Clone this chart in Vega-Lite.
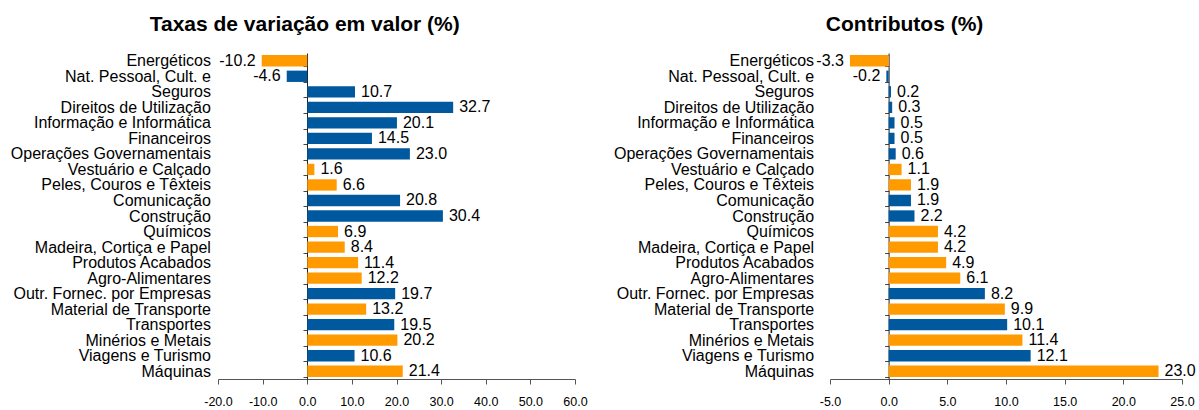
{
  "$schema": "https://vega.github.io/schema/vega-lite/v6.json",
  "padding": {"left": 10, "top": 14, "right": 5, "bottom": 2},
  "background": "#ffffff",
  "data": {"values": [
    {"cat": "Energéticos", "tipo": "bens", "taxa": -10.2, "contrib": -3.3},
    {"cat": "Nat. Pessoal, Cult. e", "tipo": "servicos", "taxa": -4.6, "contrib": -0.2},
    {"cat": "Seguros", "tipo": "servicos", "taxa": 10.7, "contrib": 0.2},
    {"cat": "Direitos de Utilização", "tipo": "servicos", "taxa": 32.7, "contrib": 0.3},
    {"cat": "Informação e Informática", "tipo": "servicos", "taxa": 20.1, "contrib": 0.5},
    {"cat": "Financeiros", "tipo": "servicos", "taxa": 14.5, "contrib": 0.5},
    {"cat": "Operações Governamentais", "tipo": "servicos", "taxa": 23.0, "contrib": 0.6},
    {"cat": "Vestuário e Calçado", "tipo": "bens", "taxa": 1.6, "contrib": 1.1},
    {"cat": "Peles, Couros e Têxteis", "tipo": "bens", "taxa": 6.6, "contrib": 1.9},
    {"cat": "Comunicação", "tipo": "servicos", "taxa": 20.8, "contrib": 1.9},
    {"cat": "Construção", "tipo": "servicos", "taxa": 30.4, "contrib": 2.2},
    {"cat": "Químicos", "tipo": "bens", "taxa": 6.9, "contrib": 4.2},
    {"cat": "Madeira, Cortiça e Papel", "tipo": "bens", "taxa": 8.4, "contrib": 4.2},
    {"cat": "Produtos Acabados", "tipo": "bens", "taxa": 11.4, "contrib": 4.9},
    {"cat": "Agro-Alimentares", "tipo": "bens", "taxa": 12.2, "contrib": 6.1},
    {"cat": "Outr. Fornec. por Empresas", "tipo": "servicos", "taxa": 19.7, "contrib": 8.2},
    {"cat": "Material de Transporte", "tipo": "bens", "taxa": 13.2, "contrib": 9.9},
    {"cat": "Transportes", "tipo": "servicos", "taxa": 19.5, "contrib": 10.1},
    {"cat": "Minérios e Metais", "tipo": "bens", "taxa": 20.2, "contrib": 11.4},
    {"cat": "Viagens e Turismo", "tipo": "servicos", "taxa": 10.6, "contrib": 12.1},
    {"cat": "Máquinas", "tipo": "bens", "taxa": 21.4, "contrib": 23.0}
  ]},
  "hconcat": [
    {
      "width": 357,
      "height": 326,
      "title": {"text": "Taxas de variação em valor (%)", "dx": 6},
      "encoding": {
        "y": {"field": "cat", "type": "nominal", "sort": null,
              "scale": {"paddingInner": 0.27, "paddingOuter": 0.135},
              "axis": {"offset": -89, "labelPadding": 92.6}}
      },
      "layer": [
        {"mark": {"type": "bar"},
         "encoding": {
           "x": {"field": "taxa", "type": "quantitative",
                 "scale": {"domain": [-20, 60], "nice": false, "zero": false},
                 "axis": {"values": [-20, -10, 0, 10, 20, 30, 40, 50, 60], "format": ".1f"}},
           "color": {"field": "tipo", "type": "nominal", "legend": null,
                     "scale": {"domain": ["bens", "servicos"], "range": ["#FF9A00", "#00599F"]}}
         }},
        {"transform": [{"filter": "datum.taxa >= 0"}],
         "mark": {"type": "text", "align": "left", "dx": 6, "fontSize": 16, "font": "Liberation Sans", "color": "#000"},
         "encoding": {"x": {"field": "taxa", "type": "quantitative"}, "text": {"field": "taxa", "type": "quantitative", "format": ".1f"}}},
        {"transform": [{"filter": "datum.taxa < 0"}],
         "mark": {"type": "text", "align": "right", "dx": -6, "fontSize": 16, "font": "Liberation Sans", "color": "#000"},
         "encoding": {"x": {"field": "taxa", "type": "quantitative"}, "text": {"field": "taxa", "type": "quantitative", "format": ".1f"}}}
      ]
    },
    {
      "width": 352,
      "height": 326,
      "title": {"text": "Contributos (%)"},
      "encoding": {
        "y": {"field": "cat", "type": "nominal", "sort": null,
              "scale": {"paddingInner": 0.27, "paddingOuter": 0.135},
              "axis": {"offset": -58.6, "labelPadding": 71}}
      },
      "layer": [
        {"mark": {"type": "bar"},
         "encoding": {
           "x": {"field": "contrib", "type": "quantitative",
                 "scale": {"domain": [-5, 25], "nice": false, "zero": false},
                 "axis": {"values": [-5, 0, 5, 10, 15, 20, 25], "format": ".1f"}},
           "color": {"field": "tipo", "type": "nominal", "legend": null,
                     "scale": {"domain": ["bens", "servicos"], "range": ["#FF9A00", "#00599F"]}}
         }},
        {"transform": [{"filter": "datum.contrib >= 0"}],
         "mark": {"type": "text", "align": "left", "dx": 6, "fontSize": 16, "font": "Liberation Sans", "color": "#000"},
         "encoding": {"x": {"field": "contrib", "type": "quantitative"}, "text": {"field": "contrib", "type": "quantitative", "format": ".1f"}}},
        {"transform": [{"filter": "datum.contrib < 0"}],
         "mark": {"type": "text", "align": "right", "dx": -6, "fontSize": 16, "font": "Liberation Sans", "color": "#000"},
         "encoding": {"x": {"field": "contrib", "type": "quantitative"}, "text": {"field": "contrib", "type": "quantitative", "format": ".1f"}}}
      ]
    }
  ],
  "spacing": 255,
  "bounds": "flush",
  "config": {
    "locale": {"number": {"decimal": ".", "thousands": ",", "grouping": [3], "currency": ["", ""], "minus": "-"}},
    "view": {"stroke": null},
    "font": "Liberation Sans",
    "title": {"font": "Liberation Sans", "fontSize": 21, "fontWeight": "bold", "color": "#000", "anchor": "middle", "frame": "bounds", "offset": 10},
    "axis": {"title": null, "grid": false, "domainColor": "#333", "tickColor": "#333", "labelColor": "#000", "labelFont": "Liberation Sans"},
    "axisX": {"tickSize": 5, "labelPadding": 11, "labelFontSize": 12.5, "labelFlush": false, "labelOverlap": false, "domainColor": "#555", "tickColor": "#555"},
    "axisY": {"tickSize": 4, "tickBand": "extent", "labelFontSize": 16, "labelLimit": 400, "labelOverlap": false, "domainColor": "#222", "tickColor": "#444"}
  }
}
